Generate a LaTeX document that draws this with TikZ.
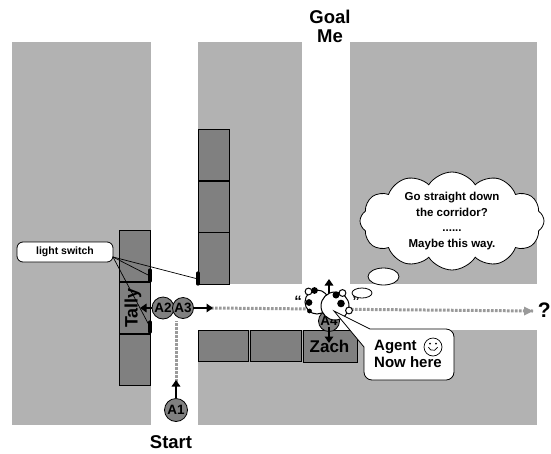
\documentclass[tikz,border=0pt]{standalone}
\usepackage{fontspec}
\setmainfont{Liberation Sans}
\usetikzlibrary{shapes.symbols,arrows.meta}
\definecolor{wallgray}{HTML}{B2B2B2}
\definecolor{deskgray}{HTML}{808080}
\definecolor{trailgray}{HTML}{9A9A9A}

\begin{document}
\begin{tikzpicture}[x=1pt,y=-1pt,
  wallblock/.style={fill=wallgray},
  deskbox/.style={draw=black,fill=deskgray,line width=0.8pt},
  agent/.style={circle,draw=black,fill=deskgray,line width=0.8pt,inner sep=0pt,
    minimum size=23pt,font=\bfseries\fontsize{13.5}{13.5}\selectfont},
  move/.style={line width=2.6pt,-{Triangle[length=6.5pt,width=8.5pt]}},
  trailpath/.style={trailgray,line width=3pt,dash pattern=on 2.6pt off 1.4pt},
  switchbar/.style={line width=3.2pt,line cap=round},
  label/.style={font=\bfseries\fontsize{18.5}{20}\selectfont,inner sep=0pt},
  headwhite/.style={draw=black,fill=white,line width=1pt},
]
\useasboundingbox (0,0) rectangle (551,453);

% rooms
\fill[wallblock] (12,42) rectangle (151,425);
\fill[wallblock] (198,42) rectangle (302,284);
\fill[wallblock] (350,42) rectangle (537,284);
\fill[wallblock] (198,330) rectangle (537,425);

% desks along the corridors
\draw[deskbox] (198,129) rectangle (229,180);
\draw[deskbox] (198,181) rectangle (229,232);
\draw[deskbox] (198,232) rectangle (229,284);
\draw[deskbox] (119,230) rectangle (150,281);
\draw[deskbox] (119,282) rectangle (150,333);
\draw[deskbox] (119,334) rectangle (150,385);
\draw[deskbox] (198,330) rectangle (248,361);
\draw[deskbox] (250,330) rectangle (301,361);
\draw[deskbox] (303,330) rectangle (357,362);

% light switches
\coordinate (sw1) at (150,276);
\coordinate (sw2) at (198,279);
\coordinate (sw3) at (150,327);
\draw[switchbar] (150,270) -- (150,281);
\draw[switchbar] (198,273) -- (198,284);
\draw[switchbar] (150,322) -- (150,332);

\node[draw=black,fill=white,rounded corners=6pt,line width=0.8pt,
  minimum width=96pt,minimum height=20pt,inner sep=0pt,
  font=\bfseries\fontsize{10.5}{11}\selectfont] (switchnote) at (65,252) {light switch};
\coordinate (notepin) at (113,257);
\draw[line width=0.7pt] (notepin) -- (sw1);
\draw[line width=0.7pt] (notepin) -- (sw2);
\draw[line width=0.7pt] (notepin) -- (sw3);

% names on the desks
\node[label,rotate=90,font=\bfseries\fontsize{18}{20}\selectfont] (tally) at (133,308) {Tally};
\node[label,anchor=base,font=\bfseries\fontsize{17}{20}\selectfont] (zach) at (329.5,352) {Zach};

% route taken so far
\coordinate (trailstart) at (176,386);
\coordinate (trailturn) at (176,321);
\coordinate (trailright) at (211,308);
\coordinate (trailend) at (533,311);
\draw[trailpath] (trailstart) -- (trailturn);
\draw[trailpath] (trailright) -- (trailend);
\fill[trailgray] (trailend) -- ++(-9,-4.5) -- ++(0,9) -- cycle;

% agent positions
\node[agent] (a1) at (176,410) {A1};
\node[agent,minimum size=22pt] (a2) at (163,308) {A2};
\node[agent,minimum size=21pt] (a3) at (183,308) {A3};
\node[agent,minimum size=21pt] (a4) at (329,321) {A4};

\coordinate (a1up) at (176,380);
\coordinate (a2left) at (140,308);
\coordinate (a3right) at (213,308);
\coordinate (a4up) at (329,279);
\coordinate (a4down) at (329,343);
\draw[move] (a1.north) -- (a1up);
\draw[move] (a2.west) -- (a2left);
\draw[move] (a3.east) -- (a3right);
\draw[move] (329,298) -- (a4up);
\draw[move] (329,327) -- (a4down);

% the two heads at the junction
\draw[headwhite] (317,302) circle[radius=12];
\draw[headwhite] (308.5,291.5) circle[radius=3.4];
\fill (314.5,290.5) circle[radius=3.4];
\fill (309,302.5) circle[radius=3.4];
\fill (309.5,311) circle[radius=2.4];
\draw[headwhite] (335,306) circle[radius=14];
\fill (336,295) circle[radius=3.5];
\draw[headwhite] (342.5,293) circle[radius=3.4];
\fill (341,303.5) circle[radius=3.8];
\draw[headwhite] (349,310.5) circle[radius=3.4];
\node[font=\bfseries\fontsize{15}{15}\selectfont,inner sep=0pt] (qopen) at (298,301) {“};
\node[font=\bfseries\fontsize{15}{15}\selectfont,inner sep=0pt] (qclose) at (356,301) {”};

% speech callout
\coordinate (tailtip) at (334,311);
\draw[fill=white,line width=0.8pt] (364,347) -- (tailtip) -- (370,329)
  {[rounded corners=8pt] -- (454,329) -- (454,380) -- (364,380)} -- cycle;
\node[anchor=base west,inner sep=0pt,font=\bfseries\fontsize{15}{17}\selectfont] (agentword) at (374,350) {Agent};
\node[anchor=base west,inner sep=0pt,font=\bfseries\fontsize{15}{17}\selectfont] (nowhere) at (374,367) {Now here};
\node[circle,draw=black,line width=0.7pt,minimum size=18pt,inner sep=0pt] (smile) at (433,347) {};
\fill (430,343.5) circle[radius=1];
\fill (436,343.5) circle[radius=1];
\draw[line width=0.7pt] (428.3,347.2) arc[start angle=160,end angle=20,radius=5];

% thought
\draw[fill=white,line width=0.8pt] (362,293) ellipse[x radius=10,y radius=5];
\draw[fill=white,line width=0.8pt] (383.5,276.5) ellipse[x radius=15.5,y radius=8.5];
\node[cloud,cloud puffs=12,cloud puff arc=115,cloud ignores aspect,draw=black,fill=white,line width=0.8pt,
  minimum width=184pt,minimum height=96pt,inner sep=0pt,align=center,
  font=\bfseries\fontsize{11.5}{15.7}\selectfont] (thought) at (452,221)
  {Go straight down\\the corridor?\\......\\Maybe this way.};

% headings
\node[label,anchor=base] (goal) at (330,23) {Goal};
\node[label,anchor=base] (me) at (330,42) {Me};
\node[label,anchor=base] (start) at (171,448) {Start};
\node[anchor=east,inner sep=0pt,font=\bfseries\fontsize{21}{21}\selectfont] (unknown) at (551,310) {?};
\end{tikzpicture}
\end{document}
